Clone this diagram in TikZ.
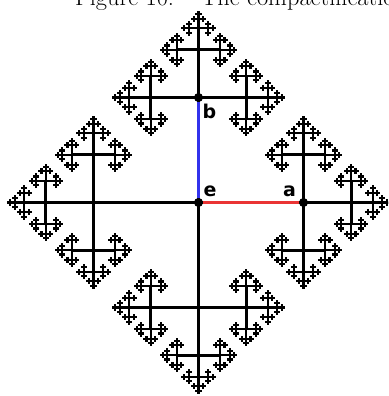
\documentclass[tikz,border=0pt]{standalone}
\usepackage{fontspec}
\newfontfamily\lblfont{DejaVu Sans}
\usetikzlibrary{positioning}
\definecolor{edgered}{RGB}{234,52,52}
\definecolor{edgeblue}{RGB}{50,50,236}

% one generator step, then every reduced word that continues it
\newcommand\growbranch[4]{% #1,#2 start, #3 angle, #4 length
  \pgfmathsetmacro\endx{#1+#4*cos(#3)}
  \pgfmathsetmacro\endy{#2+#4*sin(#3)}
  \pgfmathsetmacro\lw{max(2.1,min(3,#4/6))}
  \draw[line width=\lw pt] (#1,#2) -- (\endx,\endy);
  \ifdim#4pt>1.5pt
    \pgfmathsetmacro\sublen{0.453*#4}
    \foreach \turn in {-90,0,90}{
      \pgfmathsetmacro\subang{#3+\turn}
      \edef\nextbranch{\noexpand\growbranch{\endx}{\endy}{\subang}{\sublen}}
      \nextbranch
    }
  \fi
}

\begin{document}
\begin{tikzpicture}[
    x=1pt, y=-1pt,
    vertex/.style={circle, fill=black, inner sep=0pt, minimum size=9pt},
    lbl/.style={font=\lblfont\bfseries\fontsize{19}{19}\selectfont,
                inner sep=0pt, anchor=base west},
    gen/.style={line width=3pt},
]
\useasboundingbox (0,0) rectangle (388,396);
\clip (0,0) rectangle (388,396);
% caption, cut off by the top edge
\node[font=\fontsize{24.4}{28}\selectfont, inner sep=0pt, anchor=base west] (caption)
   at (75,6) {Figure 10:\hspace{27pt}The compactification};
% the Cayley tree, four arms out of e
\foreach \ang in {0,90,180,270} {\growbranch{198.5}{202.5}{\ang}{105}}
% the identity and the two generators
\node[vertex] (e) at (198.5,202.5) {};
\node[vertex] (a) at (303.5,202.5) {};
\node[vertex] (b) at (198.5,97.5) {};
\draw[gen, edgered] (e) -- (a);
\draw[gen, edgeblue] (e) -- (b);
\node[lbl] (le) at (203.5,196) {e};
\node[lbl] (la) at (283,196) {a};
\node[lbl] (lb) at (202.5,118.5) {b};
\end{tikzpicture}
\end{document}
